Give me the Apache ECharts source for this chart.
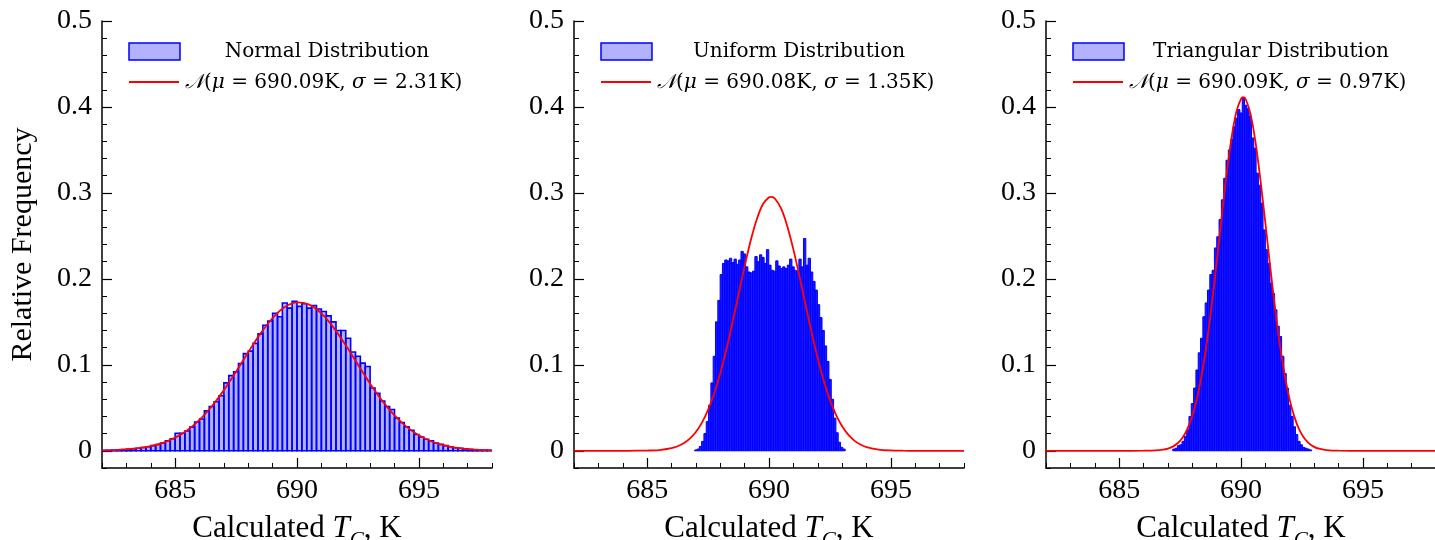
<!DOCTYPE html>
<html><head><meta charset="utf-8">
<script src="https://cdn.jsdelivr.net/npm/echarts@6/dist/echarts.min.js"></script>
<style>html,body{margin:0;padding:0;background:#fff}#c{width:1435px;height:540px}</style>
</head><body><div id="c"></div>
<script>
// ---------- data ----------
const panelTitles = ['Normal Distribution', 'Uniform Distribution', 'Triangular Distribution'];
const fitMu = ['690.09', '690.08', '690.09'];
const fitSigma = ['2.31', '1.35', '0.97'];
const yTickLabels = [0, 0.1, 0.2, 0.3, 0.4, 0.5];
const xTickLabels = [685, 690, 695];

const normalBinStart = 682, normalBinWidth = 0.2;
const normalFreq = [
  0.0005, 0.0006, 0.0008, 0.0010, 0.0014, 0.0018, 0.0024, 0.0030, 0.0038, 0.0047,
  0.0060, 0.0074, 0.0090, 0.0115, 0.0140, 0.0205, 0.0205, 0.0230, 0.0275, 0.0335,
  0.0370, 0.0465, 0.0515, 0.0570, 0.0640, 0.0790, 0.0875, 0.0920, 0.1015, 0.1130,
  0.1160, 0.1250, 0.1360, 0.1460, 0.1510, 0.1600, 0.1560, 0.1720, 0.1660, 0.1740,
  0.1680, 0.1710, 0.1660, 0.1690, 0.1650, 0.1620, 0.1570, 0.1500, 0.1400, 0.1400,
  0.1310, 0.1150, 0.1100, 0.1020, 0.0980, 0.0730, 0.0670, 0.0580, 0.0515, 0.0480,
  0.0380, 0.0330, 0.0280, 0.0240, 0.0190, 0.0160, 0.0135, 0.0115, 0.0090, 0.0075,
  0.0060, 0.0048, 0.0036, 0.0029, 0.0023, 0.0017, 0.0013, 0.0010, 0.0008, 0.0006
];

const uniformBinStart = 686.95, uniformBinWidth = 0.095;
const uniformFreq = [
  0.001, 0.002, 0.005, 0.011, 0.020, 0.034, 0.053, 0.079, 0.110, 0.150,
  0.175, 0.205, 0.218, 0.222, 0.221, 0.224, 0.219, 0.223, 0.217, 0.222,
  0.232, 0.229, 0.214, 0.208, 0.207, 0.209, 0.226, 0.220, 0.228, 0.225,
  0.218, 0.234, 0.216, 0.210, 0.209, 0.221, 0.215, 0.212, 0.214, 0.212,
  0.216, 0.223, 0.214, 0.210, 0.209, 0.223, 0.214, 0.247, 0.216, 0.224,
  0.208, 0.197, 0.187, 0.170, 0.155, 0.140, 0.122, 0.104, 0.083, 0.060,
  0.038, 0.021, 0.010, 0.004, 0.002
];

const triangularBinStart = 687.2, triangularBinWidth = 0.095;
const triangularFreq = [
  0.002, 0.003, 0.006, 0.007, 0.011, 0.017, 0.024, 0.040, 0.055, 0.073,
  0.094, 0.114, 0.131, 0.156, 0.172, 0.187, 0.205, 0.210, 0.236, 0.249,
  0.269, 0.292, 0.317, 0.338, 0.350, 0.362, 0.377, 0.387, 0.397, 0.393,
  0.410, 0.402, 0.398, 0.389, 0.364, 0.352, 0.323, 0.309, 0.288, 0.257,
  0.234, 0.218, 0.195, 0.183, 0.164, 0.145, 0.133, 0.110, 0.090, 0.073,
  0.053, 0.040, 0.028, 0.019, 0.011, 0.007, 0.004, 0.003, 0.002, 0.001
];

const normalFitX = [682, 682.5, 683, 683.5, 684, 684.5, 685, 685.5, 686, 686.5, 687, 687.5, 688, 688.5, 689, 689.5,
  690, 690.5, 691, 691.5, 692, 692.5, 693, 693.5, 694, 694.5, 695, 695.5, 696, 696.5, 697, 697.5, 698];
const normalFitY = [0.0004, 0.0008, 0.0016, 0.0030, 0.0054, 0.0092, 0.0153, 0.0240, 0.0360, 0.0516, 0.0706, 0.0921, 0.1147, 0.1363, 0.1545, 0.1672,
  0.1726, 0.1700, 0.1598, 0.1433, 0.1227, 0.1002, 0.0781, 0.0581, 0.0412, 0.0279, 0.0180, 0.0111, 0.0065, 0.0037, 0.0020, 0.0010, 0.0005];

const uniformFitX = [682, 683, 684, 684.5, 685, 685.5,
  686, 686.25, 686.5, 686.75, 687, 687.25, 687.5, 687.75, 688, 688.25, 688.5, 688.75, 689, 689.25, 689.5, 689.75,
  690, 690.1, 690.25, 690.5, 690.75, 691, 691.25, 691.5, 691.75, 692, 692.25, 692.5, 692.75, 693, 693.25, 693.5, 693.75, 694,
  694.5, 695, 695.5, 696, 697, 698];
const uniformFitY = [0, 0, 0.0000, 0.0001, 0.0003, 0.0009,
  0.0031, 0.0053, 0.0088, 0.0141, 0.0219, 0.0328, 0.0476, 0.0666, 0.0902, 0.1179, 0.1490, 0.1819, 0.2146, 0.2446, 0.2694, 0.2868,
  0.2950, 0.2955, 0.2932, 0.2816, 0.2613, 0.2343, 0.2030, 0.1699, 0.1375, 0.1075, 0.0812, 0.0593, 0.0418, 0.0285, 0.0188, 0.0119, 0.0073, 0.0044,
  0.0014, 0.0004, 0.0001, 0, 0, 0];

const triangularFitX = [682, 684, 685, 686, 686.5, 686.8,
  687, 687.2, 687.4, 687.6, 687.8, 688, 688.2, 688.4, 688.6, 688.8, 689, 689.2, 689.4, 689.6, 689.8,
  690, 690.1, 690.2, 690.4, 690.6, 690.8, 691, 691.2, 691.4, 691.6, 691.8, 692, 692.2, 692.4, 692.6, 692.8, 693, 693.2,
  693.5, 694, 695, 698];
const triangularFitY = [0, 0, 0, 0.0001, 0.0004, 0.0013,
  0.0026, 0.0049, 0.0088, 0.0153, 0.0254, 0.0404, 0.0616, 0.0902, 0.1264, 0.1699, 0.2188, 0.2700, 0.3194, 0.3620, 0.3933,
  0.4095, 0.4113, 0.4087, 0.3908, 0.3582, 0.3146, 0.2649, 0.2137, 0.1652, 0.1224, 0.0870, 0.0592, 0.0386, 0.0241, 0.0145, 0.0083, 0.0046, 0.0024,
  0.0009, 0.0001, 0, 0];

// ---------- chart ----------
const hists = [
  [normalBinStart, normalBinWidth, normalFreq],
  [uniformBinStart, uniformBinWidth, uniformFreq],
  [triangularBinStart, triangularBinWidth, triangularFreq]
];
const histStyles = [
  { fill: 'rgba(0,0,255,0.3)', stroke: '#0000ff', lineWidth: 1.6 },
  { fill: 'rgba(0,0,255,0.9)', stroke: '#0000ff', lineWidth: 1 },
  { fill: 'rgba(0,0,255,0.9)', stroke: '#0000ff', lineWidth: 1 }
];
const fits = [[normalFitX, normalFitY], [uniformFitX, uniformFitY], [triangularFitX, triangularFitY]];
const lefts = [102, 574, 1046];
const AXFONT = '"Liberation Serif", "Times New Roman", serif';
const LGFONT = '"DejaVu Serif", serif';

const grids = [], xAxes = [], yAxes = [], series = [], graphics = [];
lefts.forEach((L, i) => {
  grids.push({ left: L, top: 21, width: 390, height: 447, outerBoundsMode: 'none', containLabel: false });
  xAxes.push({
    type: 'value', gridIndex: i, min: 682, max: 698, interval: 1, position: 'bottom',
    axisLine: { show: true, onZero: false, lineStyle: { color: '#000', width: 1.5 } },
    axisTick: { inside: true, length: 5, lineStyle: { color: '#000', width: 1 } },
    axisLabel: { customValues: xTickLabels, color: '#000', fontFamily: AXFONT, fontSize: 28, margin: 9 },
    splitLine: { show: false },
    name: '{a|Calculated }{i|T}{s|C}{a|, K}', nameLocation: 'middle', nameGap: 39,
    nameTextStyle: {
      rich: {
        a: { fontFamily: AXFONT, fontSize: 31, color: '#000', lineHeight: 36 },
        i: { fontFamily: AXFONT, fontSize: 31, fontStyle: 'italic', color: '#000', lineHeight: 36 },
        s: { fontFamily: AXFONT, fontSize: 21, fontStyle: 'italic', color: '#000', padding: [23, 0, 0, 0] }
      }
    }
  });
  xAxes.push({
    type: 'value', gridIndex: i, min: 682, max: 698, interval: 1, position: 'bottom',
    axisLine: { show: false, onZero: false },
    axisTick: { show: true, customValues: xTickLabels, inside: true, length: 10, lineStyle: { color: '#000', width: 1.2 } },
    axisLabel: { show: false }, splitLine: { show: false }
  });
  const yMinor = {
    type: 'value', gridIndex: i, min: -0.02, max: 0.5, interval: 0.02, position: 'left',
    axisLine: { show: true, onZero: false, lineStyle: { color: '#000', width: 1.5 } },
    axisTick: { inside: true, length: 5, lineStyle: { color: '#000', width: 1 } },
    axisLabel: {
      customValues: yTickLabels, color: '#000', fontFamily: AXFONT, fontSize: 28, margin: 10,
      formatter: v => (Math.abs(v) < 1e-9 ? '0' : v.toFixed(1))
    },
    splitLine: { show: false }
  };
  if (i === 0) {
    yMinor.name = 'Relative Frequency';
    yMinor.nameLocation = 'middle';
    yMinor.nameGap = 64;
    yMinor.nameTextStyle = { fontFamily: AXFONT, fontSize: 30, color: '#000' };
  }
  yAxes.push(yMinor);
  yAxes.push({
    type: 'value', gridIndex: i, min: -0.02, max: 0.5, interval: 0.02, position: 'left',
    axisLine: { show: false, onZero: false },
    axisTick: { show: true, customValues: yTickLabels, inside: true, length: 10, lineStyle: { color: '#000', width: 1.2 } },
    axisLabel: { show: false }, splitLine: { show: false }
  });

  const [start, w, freq] = hists[i];
  const hs = histStyles[i];
  series.push({
    type: 'custom', xAxisIndex: 2 * i, yAxisIndex: 2 * i, clip: true, z: 2,
    data: freq.map((v, k) => [start + k * w, start + (k + 1) * w, v]),
    encode: { x: [0, 1], y: 2 },
    renderItem(params, api) {
      const p0 = api.coord([api.value(0), api.value(2)]);
      const p1 = api.coord([api.value(1), 0]);
      return {
        type: 'rect',
        shape: { x: p0[0], y: p0[1], width: p1[0] - p0[0], height: p1[1] - p0[1] },
        style: { fill: hs.fill, stroke: hs.stroke, lineWidth: hs.lineWidth }
      };
    }
  });
  const [fx, fy] = fits[i];
  series.push({
    type: 'line', xAxisIndex: 2 * i, yAxisIndex: 2 * i, z: 3,
    data: fx.map((x, k) => [x, fy[k]]),
    showSymbol: false, smooth: 0.3, clip: true,
    lineStyle: { color: '#ff0000', width: 1.8 }
  });

  // legend
  graphics.push({ type: 'rect', shape: { x: L + 27, y: 43, width: 51, height: 17 },
    style: { fill: 'rgba(0,0,255,0.3)', stroke: '#0000ff', lineWidth: 1.5 } });
  graphics.push({ type: 'text', x: L + 225, y: 52,
    style: { text: panelTitles[i], fontFamily: LGFONT, fontSize: 20, fill: '#000', align: 'center', verticalAlign: 'middle' } });
  graphics.push({ type: 'line', shape: { x1: L + 27, y1: 82, x2: L + 77, y2: 82 },
    style: { stroke: '#ff0000', lineWidth: 1.8 } });
  graphics.push({ type: 'text', x: L + 83, y: 83,
    style: {
      text: '{n|𝒩}{r|(}{i|μ}{r| = ' + fitMu[i] + 'K, }{i|σ}{r| = ' + fitSigma[i] + 'K)}',
      align: 'left', verticalAlign: 'middle',
      rich: {
        n: { fontFamily: '"DejaVu Serif", "DejaVu Sans", "Noto Sans", serif', fontSize: 20, fontStyle: 'italic', fill: '#000' },
        r: { fontFamily: LGFONT, fontSize: 20, fill: '#000' },
        i: { fontFamily: LGFONT, fontSize: 20, fontStyle: 'italic', fill: '#000' }
      }
    } });
});

const chart = echarts.init(document.getElementById('c'), null, { renderer: 'canvas' });
chart.setOption({
  animation: false,
  backgroundColor: '#fff',
  grid: grids, xAxis: xAxes, yAxis: yAxes, series, graphic: graphics
});
</script>
</body></html>
